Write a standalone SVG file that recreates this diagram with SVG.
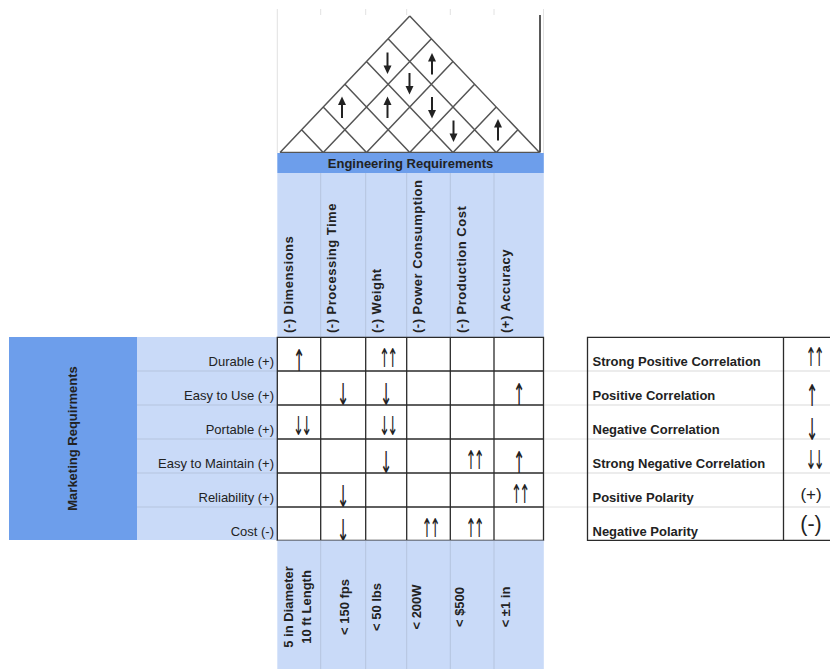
<svg xmlns="http://www.w3.org/2000/svg" width="830" height="669" viewBox="0 0 830 669">
<style>
.b{font-family:"Liberation Sans",Arial,sans-serif;font-weight:bold;font-size:13px;fill:#222}
.r{font-family:"Liberation Sans",Arial,sans-serif;font-size:13px;fill:#222}
.hd{letter-spacing:0.5px}
.ar{font-family:"DejaVu Sans",sans-serif;font-size:30px;fill:#222;text-anchor:middle}
.ar2{font-family:"DejaVu Sans",sans-serif;font-size:26px;letter-spacing:-5.2px;fill:#222;text-anchor:middle}
.gr{stroke:#e2e2e2;stroke-width:1;fill:none}
.lb{stroke:#b5c4de;stroke-width:1;fill:none}
.rl{stroke:#555;stroke-width:1.5;fill:none}
.mx{stroke:#2b2b2b;stroke-width:1.3;fill:none}
.lg{stroke:#d9d9d9;stroke-width:1;fill:none}
</style>
<defs>
<g id="up"><line x1="0" y1="-4" x2="0" y2="10.5" stroke="#222" stroke-width="2"/><polygon points="0,-11 -4,-2.5 4,-2.5" fill="#222"/></g>
</defs>
<rect width="830" height="669" fill="#fff"/>

<g id="sheet-grid">
<path class="gr" d="M277.3,9V153M320.7,9V15M365.7,9V15M406.7,9V15M450.3,9V15M494,9V15M543.5,9V153M544,371H587M544,405H587M544,439H587M544,473H587M544,507H587"/>
</g>

<g id="roof">
<path class="rl" d="M280,152.5H539.5M280,152.5L409.75,16M323.25,152.5L431.4,38.75M366.5,152.5L453,61.5M409.75,152.5L474.6,84.25M453,152.5L496.25,107M496.25,152.5L517.9,129.75M539.5,152.5L409.75,16M496.25,152.5L388.1,38.75M453,152.5L366.5,61.5M409.75,152.5L344.9,84.25M366.5,152.5L323.25,107M323.25,152.5L301.6,129.75"/>
<line x1="540" y1="15" x2="540" y2="152.5" stroke="#222" stroke-width="1.5"/>
<use href="#up" transform="translate(387.5,63) rotate(180)"/>
<use href="#up" transform="translate(432,64)"/>
<use href="#up" transform="translate(409.5,83.5) rotate(180)"/>
<use href="#up" transform="translate(342,107.5)"/>
<use href="#up" transform="translate(387.5,107.5)"/>
<use href="#up" transform="translate(432,107.5) rotate(180)"/>
<use href="#up" transform="translate(453.5,131) rotate(180)"/>
<use href="#up" transform="translate(498,130)"/>
</g>

<g id="eng-bar">
<rect x="277.3" y="153" width="266.5" height="20" fill="#6d9eeb"/>
<text class="b" x="410.5" y="167.5" text-anchor="middle">Engineering Requirements</text>
</g>

<g id="eng-headers">
<rect x="277.3" y="173" width="266.5" height="164" fill="#c9daf8"/>
<path class="lb" d="M320.7,173V337M365.7,173V337M406.7,173V337M450.3,173V337M494,173V337"/>
<text class="b hd" transform="translate(292.8,333) rotate(-90)">(-) Dimensions</text>
<text class="b hd" transform="translate(336.2,333) rotate(-90)">(-) Processing Time</text>
<text class="b hd" transform="translate(381.2,333) rotate(-90)">(-) Weight</text>
<text class="b hd" transform="translate(422.2,333) rotate(-90)">(-) Power Consumption</text>
<text class="b hd" transform="translate(465.8,333) rotate(-90)">(-) Production Cost</text>
<text class="b hd" transform="translate(509.5,333) rotate(-90)">(+) Accuracy</text>
</g>

<g id="marketing">
<rect x="9" y="337" width="128" height="203" fill="#6d9eeb"/>
<text class="b" transform="translate(76.5,438.5) rotate(-90)" text-anchor="middle">Marketing Requirments</text>
</g>

<g id="row-labels">
<rect x="137" y="337" width="140.3" height="203" fill="#c9daf8"/>
<path class="lb" d="M137,371H277M137,405H277M137,439H277M137,473H277M137,507H277"/>
<text class="r" x="274" y="366" text-anchor="end">Durable (+)</text>
<text class="r" x="274" y="400" text-anchor="end">Easy to Use (+)</text>
<text class="r" x="274" y="434" text-anchor="end">Portable (+)</text>
<text class="r" x="274" y="468" text-anchor="end">Easy to Maintain (+)</text>
<text class="r" x="274" y="502" text-anchor="end">Reliability (+)</text>
<text class="r" x="274" y="535.5" text-anchor="end">Cost (-)</text>
</g>

<g id="matrix">
<rect x="277.3" y="337.3" width="266.2" height="203" fill="#fff"/>
<path class="mx" d="M277.3,337.3H543.5V540.3H277.3ZM320.7,337.3V540.3M365.7,337.3V540.3M406.7,337.3V540.3M450.3,337.3V540.3M494,337.3V540.3M277.3,371H543.5M277.3,405H543.5M277.3,439H543.5M277.3,473H543.5M277.3,507H543.5"/>
<text class="ar" transform="translate(299,371) scale(0.5,1)">↑</text>
<text class="ar2" x="2.6" transform="translate(386,367) scale(0.5,1)">↑↑</text>
<text class="ar" transform="translate(343,405) scale(0.5,1)">↓</text>
<text class="ar" transform="translate(386,405) scale(0.5,1)">↓</text>
<text class="ar" transform="translate(519,405) scale(0.5,1)">↑</text>
<text class="ar2" x="2.6" transform="translate(300,435) scale(0.5,1)">↓↓</text>
<text class="ar2" x="2.6" transform="translate(386,435) scale(0.5,1)">↓↓</text>
<text class="ar" transform="translate(386,473) scale(0.5,1)">↓</text>
<text class="ar2" x="2.6" transform="translate(472.5,469) scale(0.5,1)">↑↑</text>
<text class="ar" transform="translate(519,473) scale(0.5,1)">↑</text>
<text class="ar" transform="translate(343,507) scale(0.5,1)">↓</text>
<text class="ar2" x="2.6" transform="translate(518,503) scale(0.5,1)">↑↑</text>
<text class="ar" transform="translate(343,541) scale(0.5,1)">↓</text>
<text class="ar2" x="2.6" transform="translate(428.5,537) scale(0.5,1)">↑↑</text>
<text class="ar2" x="2.6" transform="translate(472.5,537) scale(0.5,1)">↑↑</text>
</g>

<g id="targets">
<rect x="277.3" y="540.5" width="266.5" height="128.5" fill="#c9daf8"/>
<path class="lb" d="M320.7,541V669M365.7,541V669M406.7,541V669M450.3,541V669M494,541V669"/>
<text class="b" transform="translate(292.6,607) rotate(-90)" text-anchor="middle">5 in Diameter</text>
<text class="b" transform="translate(311,607) rotate(-90)" text-anchor="middle">10 ft Length</text>
<text class="b" transform="translate(348.7,607) rotate(-90)" text-anchor="middle">&lt; 150 fps</text>
<text class="b" transform="translate(380.7,607) rotate(-90)" text-anchor="middle">&lt; 50 lbs</text>
<text class="b" transform="translate(421.4,607) rotate(-90)" text-anchor="middle">&lt; 200W</text>
<text class="b" transform="translate(464,607) rotate(-90)" text-anchor="middle">&lt; $500</text>
<text class="b" transform="translate(509.7,607) rotate(-90)" text-anchor="middle">&lt; ±1 in</text>
</g>

<g id="legend">
<rect x="587.5" y="337.3" width="250" height="203" fill="#fff"/>
<path class="lg" d="M587.5,371H830M587.5,405H830M587.5,439H830M587.5,473H830M587.5,507H830"/>
<path class="mx" d="M831,337.3H587.5V540.3H831M783.5,337.3V540.3"/>
<text class="b" x="592.5" y="366">Strong Positive Correlation</text>
<text class="b" x="592.5" y="400">Positive Correlation</text>
<text class="b" x="592.5" y="434">Negative Correlation</text>
<text class="b" x="592.5" y="468">Strong Negative Correlation</text>
<text class="b" x="592.5" y="501.5">Positive Polarity</text>
<text class="b" x="592.5" y="535.5">Negative Polarity</text>
<text class="ar2" x="2.6" transform="translate(812.5,366) scale(0.5,1)">↑↑</text>
<text class="ar" transform="translate(812,406) scale(0.5,1)">↑</text>
<text class="ar" transform="translate(812,440) scale(0.5,1)">↓</text>
<text class="ar2" x="2.6" transform="translate(812.5,469) scale(0.5,1)">↓↓</text>
<text class="r" x="811" y="499.5" text-anchor="middle" style="font-size:17px">(+)</text>
<text class="r" x="811" y="530.5" text-anchor="middle" style="font-size:21.5px">(-)</text>
</g>
</svg>
